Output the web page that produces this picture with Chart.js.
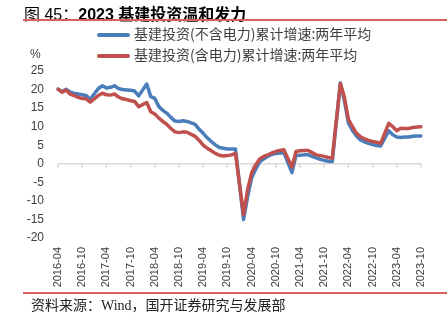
<!DOCTYPE html>
<html>
  <head>
    <meta charset="utf-8">
    <title>2023 基建投资温和发力</title>
    <script src="https://cdn.jsdelivr.net/npm/chart.js"></script>
    <style>
      body {
        margin: 0;
        width: 447px;
        height: 324px;
        background: #fff;
        position: relative;
        overflow: hidden;
        font-family: "Liberation Sans", "Noto Sans CJK SC", sans-serif;
      }
      canvas {
        position: absolute;
        left: 0;
        top: 0;
      }
      .title {
        position: absolute;
        left: 24px;
        top: 1px;
        font-size: 16px;
        color: #000;
        font-family: "Liberation Sans", "Noto Sans CJK SC", sans-serif;
        white-space: nowrap;
      }
      .title b { font-weight: bold; }
      .rule {
        position: absolute;
        left: 23px;
        right: 0;
        height: 1.5px;
        background: #d9605c;
      }
      .legend {
        position: absolute;
        left: 97px;
        font-size: 14px;
        color: #404040;
        font-family: "Noto Sans CJK SC", sans-serif;
        white-space: nowrap;
      }
      .legend div {
        height: 21px;
        line-height: 21px;
      }
      .legend span.swatch {
        display: inline-block;
        width: 33px;
        height: 4px;
        vertical-align: middle;
        margin-right: 4px;
        border-radius: 2px;
      }
      .unit {
        position: absolute;
        left: 30px;
        top: 47px;
        font-size: 12px;
        color: #404040;
      }
      .source {
        position: absolute;
        left: 31px;
        top: 294px;
        font-size: 14px;
        color: #222;
        font-family: "Liberation Serif", "Noto Sans CJK SC", serif;
        white-space: nowrap;
      }
    </style>
  </head>
  <body>
    <canvas id="chart" width="447" height="324"></canvas>
    <div class="title">图 45：<b>2023 基建投资温和发力</b></div>
    <div class="rule" style="top:19px"></div>
    <div class="legend" style="top:23px">
      <div><span class="swatch" style="background:#4a7ebb"></span>基建投资(不含电力)累计增速:两年平均</div>
      <div><span class="swatch" style="background:#c0504d"></span>基建投资(含电力)累计增速:两年平均</div>
    </div>
    <div class="unit">%</div>
    <div class="rule" style="top:292px"></div>
    <div class="source">资料来源：Wind，国开证券研究与发展部</div>

    <script>
      const months = [
        "2016-04","2016-05","2016-06","2016-07","2016-08","2016-09","2016-10","2016-11","2016-12",
        "2017-01","2017-02","2017-03","2017-04","2017-05","2017-06","2017-07","2017-08","2017-09","2017-10","2017-11","2017-12",
        "2018-01","2018-02","2018-03","2018-04","2018-05","2018-06","2018-07","2018-08","2018-09","2018-10","2018-11","2018-12",
        "2019-01","2019-02","2019-03","2019-04","2019-05","2019-06","2019-07","2019-08","2019-09","2019-10","2019-11","2019-12",
        "2020-01","2020-02","2020-03","2020-04","2020-05","2020-06","2020-07","2020-08","2020-09","2020-10","2020-11","2020-12",
        "2021-01","2021-02","2021-03","2021-04","2021-05","2021-06","2021-07","2021-08","2021-09","2021-10","2021-11","2021-12",
        "2022-01","2022-02","2022-03","2022-04","2022-05","2022-06","2022-07","2022-08","2022-09","2022-10","2022-11","2022-12",
        "2023-01","2023-02","2023-03","2023-04","2023-05","2023-06","2023-07","2023-08","2023-09","2023-10"
      ];

      const tickLabels = [
        "2016-04","2016-10","2017-04","2017-10","2018-04","2018-10","2019-04","2019-10",
        "2020-04","2020-10","2021-04","2021-10","2022-04","2022-10","2023-04","2023-10"
      ];

      // 基建投资(不含电力)累计增速:两年平均 (no January release -> null)
      const exPower = [
        20.1, 19.4, 20.1, 19.3, 19.0, 18.8, 18.6, 18.4, 17.4,
        null, 20.3, 21.0, 20.4, 20.6, 21.0, 20.3, 20.0, 19.9, 19.8, 19.6, 18.3,
        null, 21.5, 18.1, 17.6, 15.4, 14.4, 13.6, 12.5, 11.5, 11.4, 11.6, 11.4,
        null, 10.6, 9.3, 8.2, 7.0, 6.0, 5.1, 4.4, 4.2, 4.0, 4.0, 4.0,
        null, -15.0, -9.0, -3.8, -1.5, 0.5, 1.3, 2.0, 2.5, 2.8, 2.9, 3.0,
        null, -2.4, 2.2, 2.3, 2.4, 2.4, 2.0, 1.6, 1.2, 0.9, 0.7, 0.6,
        null, 21.8, 17.0, 11.0, 9.0, 7.5, 6.4, 5.9, 5.5, 5.2, 4.9, 4.8,
        null, 8.9, 7.8, 7.2, 7.1, 7.2, 7.2, 7.4, 7.5, 7.5
      ];

      // 基建投资(含电力)累计增速:两年平均
      const inclPower = [
        20.1, 19.3, 19.9, 18.8, 18.4, 17.9, 17.6, 17.5, 16.6,
        null, 18.4, 19.0, 18.6, 18.5, 18.8, 18.0, 17.5, 17.3, 17.0, 16.8, 15.4,
        null, 16.5, 14.0, 13.4, 12.3, 11.4, 10.6, 9.5, 8.6, 8.4, 8.6, 8.5,
        null, 7.4, 6.3, 5.0, 4.2, 3.5, 2.8, 2.3, 2.1, 2.2, 2.4, 2.8,
        null, -13.7, -7.0, -2.5, -0.3, 1.3, 2.0, 2.4, 2.9, 3.3, 3.6, 3.8,
        null, -0.9, 3.3, 3.5, 3.6, 3.6, 3.0, 2.4, 2.2, 2.0, 1.7, 1.5,
        null, 21.6, 18.0, 12.0, 10.0, 8.2, 7.3, 6.7, 6.3, 6.0, 5.8, 5.5,
        null, 10.9, 10.0, 8.9, 9.6, 9.5, 9.5, 9.8, 9.9, 10.0
      ];

      // zero line with small tick marks under it, like the excel axis
      const zeroAxis = {
        id: "zeroAxis",
        beforeDatasetsDraw(chart) {
          const { ctx, chartArea, scales } = chart;
          const y0 = scales.y.getPixelForValue(0);
          ctx.save();
          ctx.strokeStyle = "#d9d9d9";
          ctx.lineWidth = 1.5;
          ctx.beginPath();
          ctx.moveTo(chartArea.left, y0);
          ctx.lineTo(chartArea.right, y0);
          months.forEach((m, i) => {
            if (!tickLabels.includes(m)) return;
            const x = scales.x.getPixelForValue(i);
            ctx.moveTo(x, y0);
            ctx.lineTo(x, y0 + 4);
          });
          ctx.stroke();
          ctx.restore();
        }
      };

      new Chart(document.getElementById("chart"), {
        type: "line",
        data: {
          labels: months,
          datasets: [
            { label: "基建投资(不含电力)累计增速:两年平均", data: exPower, borderColor: "#4a7ebb", order: 1 },
            { label: "基建投资(含电力)累计增速:两年平均", data: inclPower, borderColor: "#c0504d", order: 0 }
          ]
        },
        options: {
          responsive: false,
          animation: false,
          spanGaps: true,
          layout: { padding: { top: 71, right: 26, bottom: 0, left: 0 } },
          elements: {
            line: { borderWidth: 3.5, tension: 0, borderJoinStyle: "round", borderCapStyle: "round" },
            point: { radius: 0 }
          },
          plugins: {
            legend: { display: false },
            tooltip: { enabled: false }
          },
          scales: {
            x: {
              grid: { display: false, drawTicks: false },
              border: { display: false },
              ticks: {
                autoSkip: false,
                minRotation: 90,
                maxRotation: 90,
                padding: 9,
                color: "#404040",
                font: { family: "Liberation Sans", size: 11 },
                callback(value) {
                  const l = this.getLabelForValue(value);
                  return tickLabels.includes(l) ? l : null;
                }
              },
              afterFit(scale) { scale.height = 86; }
            },
            y: {
              min: -20,
              max: 25,
              grid: { display: false, drawTicks: false },
              border: { display: false },
              ticks: {
                stepSize: 5,
                padding: 14,
                color: "#404040",
                font: { family: "Liberation Sans", size: 12 }
              },
              afterFit(scale) { scale.width = 58; }
            }
          }
        },
        plugins: [zeroAxis]
      });
    </script>
  </body>
</html>
